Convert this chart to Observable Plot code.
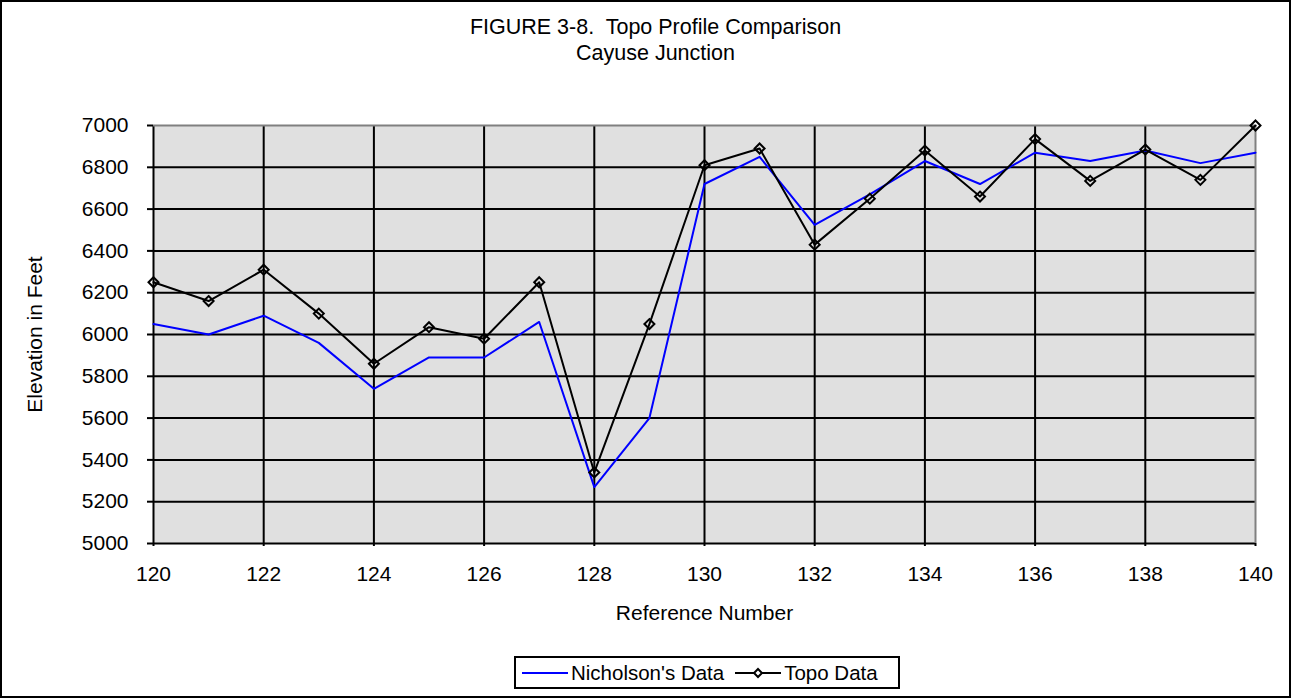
<!DOCTYPE html>
<html>
<head>
<meta charset="utf-8">
<script src="https://cdn.jsdelivr.net/npm/d3@7"></script>
<script src="https://cdn.jsdelivr.net/npm/@observablehq/plot@0.6"></script>
<style>
  body { margin: 0; background: #fff; font-family: "Liberation Sans", Arial, sans-serif; }
  #wrap { position: relative; width: 1291px; height: 698px; box-sizing: border-box; border: 2px solid #000; background: #fff; overflow: hidden; }
  #title { position: absolute; left: 0; top: 12px; width: 1287px; padding-left: 20px; box-sizing: border-box; text-align: center; font-size: 21.5px; line-height: 26px; color: #000; white-space: pre; }
  #chart { position: absolute; left: 0; top: 88px; }
  #legend { position: absolute; left: 512px; top: 654px; width: 386px; height: 33px; box-sizing: border-box; border: 2px solid #000; background: #fff; display: flex; align-items: center; font-size: 20.5px; white-space: nowrap; color: #000; padding-left: 6px; }
  #legend .item { display: flex; align-items: center; }
  #legend svg { display: block; }
</style>
</head>
<body>
<div id="wrap">
  <div id="title"></div>
  <div id="chart"></div>
  <div id="legend"></div>
</div>
<script>
// ---- data ----
const titleLines = ["FIGURE 3-8.  Topo Profile Comparison", "Cayuse Junction"];
const refNumbers = [120, 121, 122, 123, 124, 125, 126, 127, 128, 129, 130, 131, 132, 133, 134, 135, 136, 137, 138, 139, 140];
const nicholson  = [6050, 6000, 6090, 5960, 5740, 5890, 5890, 6060, 5270, 5600, 6720, 6850, 6525, 6670, 6830, 6720, 6870, 6830, 6880, 6820, 6870];
const topo       = [6250, 6160, 6310, 6100, 5860, 6035, 5980, 6250, 5340, 6050, 6810, 6890, 6430, 6650, 6880, 6660, 6935, 6735, 6885, 6740, 7000];
const seriesNames = ["Nicholson's Data", "Topo Data"];
const seriesColors = ["#0000ff", "#000000"];
const xTicks = [120, 122, 124, 126, 128, 130, 132, 134, 136, 138, 140];
const yTicks = [5000, 5200, 5400, 5600, 5800, 6000, 6200, 6400, 6600, 6800, 7000];
const xLabel = "Reference Number";
const yLabel = "Elevation in Feet";

// ---- title ----
document.getElementById("title").textContent = titleLines.join("\n");

// ---- chart ----
const nichData = refNumbers.map((x, i) => ({x, y: nicholson[i]}));
const topoData = refNumbers.map((x, i) => ({x, y: topo[i]}));
const xMin = d3.min(xTicks), xMax = d3.max(xTicks);
const yMin = d3.min(yTicks), yMax = d3.max(yTicks);

const chart = Plot.plot({
  width: 1287,
  height: 550,
  marginTop: 35,
  marginBottom: 97,
  marginLeft: 151,
  marginRight: 34,
  style: { fontFamily: "'Liberation Sans', Arial, sans-serif", fontSize: "21px", color: "#000", background: "transparent", overflow: "visible" },
  x: { domain: [xMin, xMax] },
  y: { domain: [yMin, yMax] },
  marks: [
    Plot.frame({ fill: "#e0e0e0", stroke: null }),
    Plot.ruleY(yTicks.filter(v => v < yMax), { stroke: "#000", strokeWidth: 2 }),
    Plot.ruleX(xTicks.filter(v => v < xMax), { stroke: "#000", strokeWidth: 2 }),
    Plot.ruleY([yMax], { stroke: "#808080", strokeWidth: 2 }),
    Plot.ruleX([xMax], { stroke: "#808080", strokeWidth: 2 }),
    Plot.axisX({ ticks: xTicks, tickSize: 3, tickPadding: 20, strokeWidth: 2, tickFormat: d => String(d),
      label: xLabel, labelAnchor: "center", labelOffset: 76, labelArrow: "none" }),
    Plot.axisY({ ticks: yTicks, tickSize: 6, tickPadding: 19, strokeWidth: 2, tickFormat: d => String(d),
      label: yLabel, labelAnchor: "center", labelOffset: 126, labelArrow: "none" }),
    Plot.line(nichData, { x: "x", y: "y", stroke: seriesColors[0], strokeWidth: 2 }),
    Plot.line(topoData, { x: "x", y: "y", stroke: seriesColors[1], strokeWidth: 2 }),
    Plot.dot(topoData, { x: "x", y: "y", symbol: "diamond2", r: 4.5, stroke: seriesColors[1], strokeWidth: 2, fill: "none" })
  ]
});
document.getElementById("chart").appendChild(chart);

// ---- legend ----
const legend = d3.select("#legend");
seriesNames.forEach((name, i) => {
  const item = legend.append("div").attr("class", "item").style("margin-right", i === 0 ? "11px" : "0px");
  const sw = item.append("svg").attr("width", 46).attr("height", 14).style("margin-right", "3px");
  sw.append("line").attr("x1", 0).attr("x2", 46).attr("y1", 7).attr("y2", 7)
    .attr("stroke", seriesColors[i]).attr("stroke-width", 2);
  if (i === 1) {
    sw.append("path").attr("d", d3.symbol(d3.symbolDiamond2, 40)()).attr("transform", "translate(23,7)")
      .attr("fill", "#fff").attr("stroke", "#000").attr("stroke-width", 2);
  }
  item.append("span").text(name);
});
</script>
</body>
</html>
